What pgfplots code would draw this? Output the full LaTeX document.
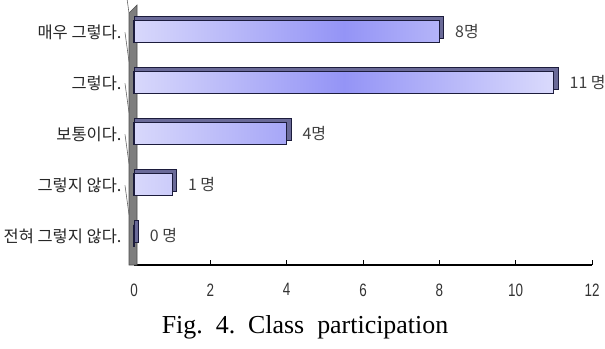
\documentclass[border=0pt]{standalone}
\usepackage{pgfplots}
\usepackage{pgfplotstable}
\pgfplotsset{compat=1.18}
\usepackage{fontspec}
\setmainfont{Liberation Serif}
\newfontfamily\cjk{Noto Sans CJK KR}
\newfontfamily\tickfont[FakeStretch=0.75]{Liberation Sans}
\definecolor{barL}{HTML}{D8D8FB}
\definecolor{barM}{HTML}{9494F6}
\definecolor{barR}{HTML}{DADAFC}
\definecolor{barEdge}{HTML}{1C1C3C}
\definecolor{barBack}{HTML}{6A6A98}
\definecolor{wall}{HTML}{7E7E7E}
\pgfplotstableread{
y v lbl
0 0 {0 명}
1 1 {1 명}
2 4 4명
3 11 {11 명}
4 8 8명
}\datatable
\begin{document}
\begin{tikzpicture}[x=1bp,y=1bp]
\useasboundingbox (0,0) rectangle (605,348);
\begin{axis}[
  at={(134bp,83bp)}, anchor=south west,
  scale only axis, width=458bp, height=255bp,
  xmin=0, xmax=12, ymin=-0.57, ymax=4.43,
  axis x line*=bottom, axis y line*=left,
  x axis line style={-, line width=1.3bp, black},
  y axis line style={draw=none},
  xtick={0,2,...,12},
  tick align=inside,
  major tick length=5bp,
  xtick style={black, line width=0.6bp},
  ytick={0,1,2,3,4},
  ytick style={draw=none},
  yticklabels={전혀 그렇지 않다., 그렇지 않다., 보통이다., 그렇다., 매우 그렇다.},
  yticklabel style={font=\cjk\fontsize{16.5}{18}\selectfont, text=black!85, xshift=-9bp},
  /pgf/number format/assume math mode=true,
  xticklabel style={font=\tickfont\fontsize{18}{20}\selectfont, text=black!80, yshift=-15bp},
  clip=false,
]
\filldraw[fill=wall, draw=black!70, line width=0.6bp]
  ([xshift=-5bp]axis cs:0,-0.57) -- ([xshift=-5bp]axis cs:0,4.37)
  -- ([xshift=3bp,yshift=8bp]axis cs:0,4.37) -- ([xshift=3bp]axis cs:0,-0.57) -- cycle;
\pgfplotsinvokeforeach{0.42,1.42,2.42,3.42,4.37}{
  \draw[black!60, line width=0.6bp] ([xshift=-5bp]axis cs:0,#1) -- ++(-4bp,0);
}
\addplot[xbar, bar width=22bp, fill=barBack, draw=barEdge, line width=0.9bp, bar shift=4bp]
  table[x expr=\thisrow{v}+0.12, y=y] {\datatable};
\addplot[xbar, bar width=22bp, draw=barEdge, line width=1.1bp, left color=barL, right color=barR, middle color=barM, bar shift=0bp,
  point meta=explicit symbolic,
  nodes near coords,
  every node near coord/.append style={font=\cjk\fontsize{16}{18}\selectfont, text=black!75, anchor=west, xshift=12bp}]
  table[x=v, y=y, meta=lbl] {\datatable};
\end{axis}
\node[font=\fontsize{26}{30}\selectfont, anchor=base] at (305,15) {Fig.\ \ 4.\ \ Class\ \ participation};
\end{tikzpicture}
\end{document}
